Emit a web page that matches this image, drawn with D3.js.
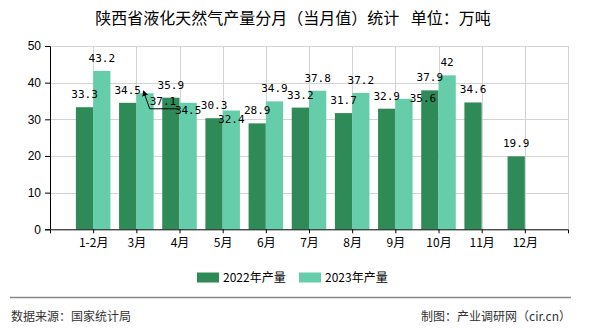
<!DOCTYPE html>
<html>
<head>
<meta charset="utf-8">
<script src="https://cdn.jsdelivr.net/npm/d3@7/dist/d3.min.js"></script>
<style>
  html, body { margin: 0; padding: 0; background: #fff; }
  svg { display: block; }
</style>
</head>
<body>
<svg id="chart" width="590" height="330"></svg>
<script>
// Monthly LNG output of Shaanxi province (10k tonnes)
const months = ["1-2月", "3月", "4月", "5月", "6月", "7月", "8月", "9月", "10月", "11月", "12月"];
const output2022 = [33.3, 34.5, 35.9, 30.3, 28.9, 33.2, 31.7, 32.9, 37.9, 34.6, 19.9];
const output2023 = [43.2, 37.1, 34.5, 32.4, 34.9, 37.8, 37.2, 35.6, 42, null, null];
const seriesNames = ["2022年产量", "2023年产量"];
const yTicks = [0, 10, 20, 30, 40, 50];

const colors = ["#2e8b57", "#66cdaa"];
const svg = d3.select("#chart");
const plot = { left: 50, right: 568, top: 46, bottom: 229.3 };

// Label nudges so crowded value labels do not collide (series 1 only)
const nudge2023 = { 1: { dx: 18, dy: 21, leader: true }, 2: { dx: 0, dy: 20 }, 3: { dx: 0, dy: 21 }, 7: { dx: 19, dy: 12 } };

const x = d3.scalePoint().domain(months).range([plot.left, plot.right]).padding(1);
const step = x.step();
const barW = step * 0.4;
const y = d3.scaleLinear().domain([0, 50]).range([plot.bottom, plot.top]);

// Title
svg.append("text")
  .attr("x", 293).attr("y", 24)
  .attr("text-anchor", "middle")
  .style("font-family", "'Noto Sans CJK SC', sans-serif")
  .style("font-size", "16px")
  .attr("fill", "#000")
  .text("陕西省液化天然气产量分月（当月值）统计\u2002 单位：万吨");

// Grid
const grid = svg.append("g").attr("stroke", "#d3d3d3").attr("stroke-width", 1);
grid.selectAll("line.h").data(yTicks.filter(d => d > 0)).join("line")
  .attr("x1", plot.left).attr("x2", plot.right)
  .attr("y1", d => Math.round(y(d)) + 0.5).attr("y2", d => Math.round(y(d)) + 0.5);
grid.selectAll("line.v").data(months).join("line")
  .attr("x1", d => Math.round(x(d)) + 0.5).attr("x2", d => Math.round(x(d)) + 0.5)
  .attr("y1", plot.top).attr("y2", plot.bottom);
grid.append("line")
  .attr("x1", plot.right + 0.5).attr("x2", plot.right + 0.5)
  .attr("y1", plot.top).attr("y2", plot.bottom);

// Bars
const seriesData = [output2022, output2023];
seriesData.forEach((vals, s) => {
  svg.append("g").selectAll("rect").data(months.map((m, i) => ({ m, v: vals[i] })).filter(d => d.v != null))
    .join("rect")
    .attr("x", d => x(d.m) - barW + s * barW)
    .attr("width", barW)
    .attr("y", d => y(d.v))
    .attr("height", d => y(0) - y(d.v))
    .attr("fill", colors[s]);
});

// Axes
const yAxis = svg.append("g")
  .attr("transform", `translate(${plot.left},0)`)
  .call(d3.axisLeft(y).tickValues(yTicks).tickSize(5).tickPadding(4));
yAxis.select(".domain").attr("stroke", "#000");
yAxis.selectAll(".tick line").attr("stroke", "#000");
yAxis.selectAll("text")
  .style("font-family", "'Liberation Sans', Arial, sans-serif")
  .style("font-size", "12px").attr("fill", "#000");

const xAxis = svg.append("g")
  .attr("transform", `translate(0,${plot.bottom})`)
  .call(d3.axisBottom(x).tickSizeInner(4).tickSizeOuter(4).tickPadding(5));
xAxis.select(".domain").attr("stroke", "#000");
xAxis.selectAll(".tick line").attr("stroke", "#000");
xAxis.selectAll("text")
  .style("font-family", "'Noto Sans CJK SC', sans-serif")
  .style("font-size", "12px").attr("fill", "#000");

// Value labels
const labelFont = "'DejaVu Sans Mono', 'Liberation Mono', monospace";
svg.append("defs").append("marker")
  .attr("id", "arrowHead").attr("viewBox", "0 0 10 10")
  .attr("refX", 1).attr("refY", 5)
  .attr("markerWidth", 6).attr("markerHeight", 6)
  .attr("orient", "auto-start-reverse")
  .append("path").attr("d", "M0,0 L10,5 L0,10 z").attr("fill", "#000");

seriesData.forEach((vals, s) => {
  months.forEach((m, i) => {
    const v = vals[i];
    if (v == null) return;
    const cx = x(m) - barW / 2 + s * barW;
    const n = s === 1 && nudge2023[i] ? nudge2023[i] : { dx: 0, dy: 0 };
    const lx = cx + n.dx, ly = y(v) - 9 + n.dy;
    const t = svg.append("text")
      .attr("x", lx).attr("y", ly)
      .attr("text-anchor", "middle")
      .style("font-family", labelFont)
      .style("font-size", "11px")
      .attr("fill", "#000")
      .text(v);
    if (n.leader) {
      const w = t.node().getComputedTextLength();
      svg.append("polyline")
        .attr("points", `${lx + w / 2 + 2},${ly + 3.5} ${lx - w / 2},${ly + 3.5} ${cx},${y(v) + 2}`)
        .attr("fill", "none").attr("stroke", "#000").attr("stroke-width", 1)
        .attr("marker-end", "url(#arrowHead)");
    }
  });
});

// Legend
const legend = svg.append("g");
const legendX = [197, 299];
seriesNames.forEach((name, s) => {
  legend.append("rect")
    .attr("x", legendX[s]).attr("y", 272.5)
    .attr("width", 22).attr("height", 10)
    .attr("fill", colors[s]);
  legend.append("text")
    .attr("x", legendX[s] + 26).attr("y", 282)
    .style("font-family", "'Noto Sans CJK SC', sans-serif")
    .style("font-size", "12px").attr("fill", "#000")
    .text(name);
});

// Footer
svg.append("line")
  .attr("x1", 10).attr("x2", 571).attr("y1", 297.5).attr("y2", 297.5)
  .attr("stroke", "#888").attr("stroke-width", 1.5);
svg.append("text")
  .attr("x", 11).attr("y", 321)
  .style("font-family", "'Noto Sans CJK SC', sans-serif")
  .style("font-size", "12px").attr("fill", "#333")
  .text("数据来源：国家统计局");
svg.append("text")
  .attr("x", 571).attr("y", 321).attr("text-anchor", "end")
  .style("font-family", "'Noto Sans CJK SC', sans-serif")
  .style("font-size", "12px").attr("fill", "#333")
  .text("制图：产业调研网（cir.cn）");
</script>
</body>
</html>
